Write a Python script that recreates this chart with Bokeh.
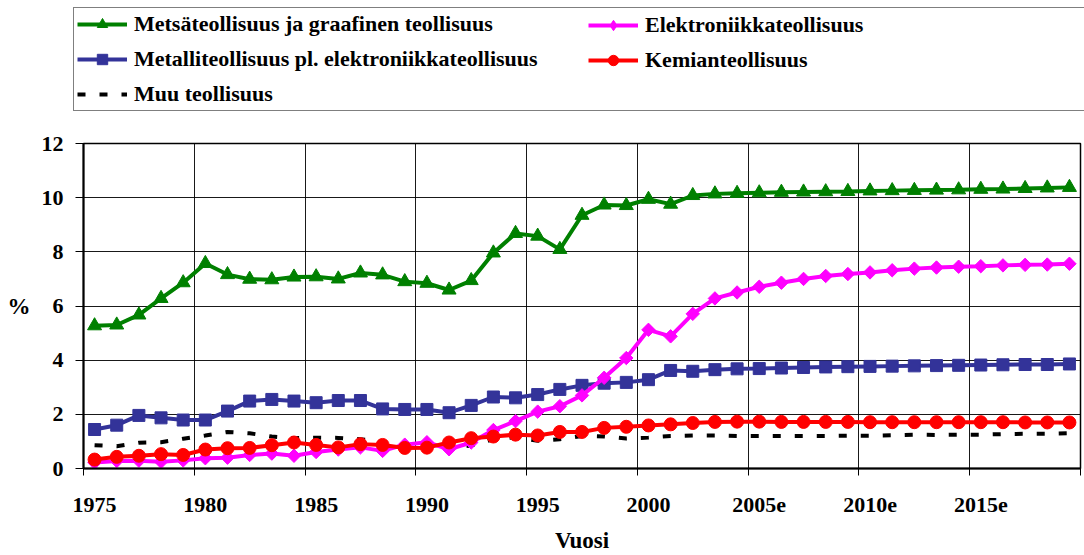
import math
from bokeh.plotting import figure
from bokeh.layouts import column
from bokeh.models import Range1d, FixedTicker, Legend, LegendItem
from bokeh.embed import file_html
from bokeh.resources import INLINE

# ---- data ----
vuodet = list(range(1975, 2020))
tick_vuodet = [1975, 1980, 1985, 1990, 1995, 2000, 2005, 2010, 2015]
tick_labels = ["1975", "1980", "1985", "1990", "1995", "2000", "2005e", "2010e", "2015e"]

metsa = [5.27, 5.30, 5.67, 6.28, 6.86, 7.57, 7.16, 6.99, 6.97, 7.07,
         7.08, 7.00, 7.22, 7.15, 6.90, 6.84, 6.59, 6.94, 7.96, 8.68,
         8.58, 8.09, 9.35, 9.73, 9.71, 9.94, 9.76, 10.08, 10.14, 10.16,
         10.18, 10.20, 10.21, 10.22, 10.23, 10.25, 10.26, 10.27, 10.28, 10.29,
         10.31, 10.32, 10.34, 10.36, 10.38]

elektro = [0.22, 0.28, 0.29, 0.25, 0.30, 0.38, 0.40, 0.50, 0.55, 0.47,
           0.61, 0.70, 0.78, 0.65, 0.88, 0.97, 0.71, 0.96, 1.42, 1.75,
           2.10, 2.30, 2.70, 3.35, 4.08, 5.12, 4.88, 5.71, 6.28, 6.50,
           6.71, 6.86, 7.00, 7.11, 7.18, 7.24, 7.32, 7.38, 7.42, 7.45,
           7.47, 7.50, 7.52, 7.53, 7.56]

metalli = [1.44, 1.60, 1.96, 1.87, 1.79, 1.79, 2.12, 2.49, 2.55, 2.49,
           2.43, 2.51, 2.51, 2.20, 2.18, 2.18, 2.06, 2.33, 2.64, 2.61,
           2.73, 2.92, 3.07, 3.15, 3.18, 3.28, 3.62, 3.59, 3.65, 3.68,
           3.69, 3.71, 3.73, 3.75, 3.76, 3.77, 3.78, 3.79, 3.80, 3.81,
           3.82, 3.83, 3.84, 3.84, 3.86]

kemia = [0.33, 0.43, 0.47, 0.53, 0.50, 0.70, 0.75, 0.76, 0.86, 0.96,
         0.87, 0.78, 0.90, 0.87, 0.76, 0.77, 0.96, 1.12, 1.18, 1.25,
         1.22, 1.35, 1.35, 1.50, 1.54, 1.59, 1.63, 1.68, 1.72, 1.73,
         1.73, 1.72, 1.72, 1.72, 1.72, 1.71, 1.71, 1.71, 1.71, 1.71,
         1.71, 1.71, 1.70, 1.70, 1.70]

muu = [0.86, 0.82, 0.95, 0.97, 1.10, 1.22, 1.35, 1.30, 1.18, 1.12,
       1.14, 1.13, 1.08, 0.98, 0.88, 0.80, 0.75, 0.85, 1.08, 1.15,
       1.02, 1.08, 1.20, 1.18, 1.11, 1.14, 1.20, 1.22, 1.22, 1.20,
       1.20, 1.20, 1.20, 1.20, 1.21, 1.21, 1.23, 1.25, 1.24, 1.25,
       1.25, 1.27, 1.28, 1.28, 1.30]

nimet = ["Metsäteollisuus ja graafinen teollisuus",
         "Elektroniikkateollisuus",
         "Metalliteollisuus pl. elektroniikkateollisuus",
         "Kemianteollisuus",
         "Muu teollisuus"]

FONT = "Liberation Serif"
GREEN, MAGENTA, BLUE, RED = "#008000", "#FF00FF", "#333399", "#FF0000"

LEG_H = 125

# ---------------- main chart ----------------
p = figure(width=1084, height=555 - LEG_H, output_backend="svg", toolbar_location=None,
           x_range=Range1d(vuodet[0] - 0.5, vuodet[-1] + 0.5), y_range=Range1d(0, 12),
           min_border_left=83, min_border_right=4, min_border_top=143 - LEG_H, min_border_bottom=86,
           background_fill_color="white", border_fill_color="white")
p.frame_align = False
p.outline_line_color = "black"
p.outline_line_width = 1.5

boundaries = [v - 0.5 for v in vuodet[::5]] + [vuodet[-1] + 0.5]

p.xaxis.ticker = FixedTicker(ticks=tick_vuodet, minor_ticks=boundaries)
p.xaxis.major_label_overrides = {t: l for t, l in zip(tick_vuodet, tick_labels)}
p.xaxis.major_tick_out = 0
p.xaxis.major_tick_in = 0
p.xaxis.minor_tick_out = 7
p.xaxis.minor_tick_in = 0
p.xaxis.minor_tick_line_color = "black"
p.xaxis.axis_label = "Vuosi"
p.xaxis.axis_label_standoff = 13
p.xaxis.major_label_standoff = 22

p.yaxis.ticker = FixedTicker(ticks=[0, 2, 4, 6, 8, 10, 12], minor_ticks=[])
p.yaxis.major_tick_out = 8
p.yaxis.major_tick_in = 0
p.yaxis.axis_label = "%"
p.yaxis.axis_label_orientation = "horizontal"
p.yaxis.axis_label_standoff = 8
p.yaxis.major_label_standoff = 12

for ax in (p.xaxis, p.yaxis):
    ax.axis_line_color = "black"
    ax.axis_line_width = 2
    ax.major_tick_line_color = "black"
    ax.major_label_text_font = FONT
    ax.major_label_text_font_style = "bold"
    ax.major_label_text_font_size = "22px"
    ax.major_label_text_color = "black"
    ax.axis_label_text_font = FONT
    ax.axis_label_text_font_style = "bold"
    ax.axis_label_text_font_size = "23px"
    ax.axis_label_text_color = "black"

p.xgrid.ticker = FixedTicker(ticks=boundaries)
p.ygrid.ticker = FixedTicker(ticks=[0, 2, 4, 6, 8, 10, 12])
for g in (p.xgrid, p.ygrid):
    g.grid_line_color = "black"
    g.grid_line_width = 1
    g.grid_line_alpha = 0.9


def draw(fig, xs, ys_muu, ys_metsa, ys_metalli, ys_elektro, ys_kemia, in_legend=False):
    r = {}
    r["muu"] = [fig.line(xs, ys_muu, line_color="black", line_width=4, line_dash="8 14")]
    r["metsa"] = [fig.line(xs, ys_metsa, line_color=GREEN, line_width=4),
                  fig.scatter(xs, ys_metsa, marker="triangle", size=14, fill_color=GREEN, line_color=GREEN)]
    r["metalli"] = [fig.line(xs, ys_metalli, line_color=BLUE, line_width=4),
                    fig.scatter(xs, ys_metalli, marker="square", size=12, fill_color=BLUE, line_color=BLUE)]
    if in_legend:
        m_elektro = fig.scatter(xs, ys_elektro, marker="diamond", size=15,
                                fill_color=MAGENTA, line_color=MAGENTA)
    else:
        m_elektro = fig.scatter(xs, ys_elektro, marker="square", size=9.5, angle=math.pi / 4,
                                fill_color=MAGENTA, line_color=MAGENTA)
    r["elektro"] = [fig.line(xs, ys_elektro, line_color=MAGENTA, line_width=4), m_elektro]
    r["kemia"] = [fig.line(xs, ys_kemia, line_color=RED, line_width=4),
                  fig.scatter(xs, ys_kemia, marker="circle", size=13, fill_color=RED, line_color=RED)]
    return r


draw(p, vuodet, muu, metsa, metalli, elektro, kemia)

# ---------------- legend strip (same series, outside its view range) ----------------
lf = figure(width=1084, height=LEG_H, output_backend="svg", toolbar_location=None,
            x_range=Range1d(0, 1), y_range=Range1d(0, 1),
            x_axis_type=None, y_axis_type=None,
            min_border=0, min_border_left=0, min_border_right=0, min_border_top=0, min_border_bottom=0,
            background_fill_color="white", border_fill_color="white")
lf.frame_align = False
lf.outline_line_color = None
lf.xgrid.visible = False
lf.ygrid.visible = False
lr = draw(lf, vuodet, muu, metsa, metalli, elektro, kemia, in_legend=True)


def style_legend(lg):
    lg.label_text_font = FONT
    lg.label_text_font_style = "bold"
    lg.label_text_font_size = "22px"
    lg.label_text_color = "black"
    lg.glyph_width = 50
    lg.glyph_height = 26
    lg.label_height = 26
    lg.label_standoff = 7
    lg.spacing = 9
    lg.padding = 3
    lg.margin = 0


legA = Legend(items=[
    LegendItem(label=nimet[0], renderers=lr["metsa"]),
    LegendItem(label=nimet[2], renderers=lr["metalli"]),
    LegendItem(label=nimet[4], renderers=lr["muu"]),
], location=(73, LEG_H - 9 - 102))
style_legend(legA)
legA.label_width = 960
legA.border_line_color = "black"
legA.border_line_width = 1
legA.background_fill_color = "white"
legA.background_fill_alpha = 1

legB = Legend(items=[
    LegendItem(label=nimet[1], renderers=lr["elektro"]),
    LegendItem(label=nimet[3], renderers=lr["kemia"]),
], location=(585, LEG_H - 9 - 67))
style_legend(legB)
legB.border_line_alpha = 0
legB.background_fill_alpha = 0

lf.add_layout(legA)
lf.add_layout(legB)

layout = column(lf, p, spacing=0)
open("out.html", "w").write(file_html(layout, INLINE))
